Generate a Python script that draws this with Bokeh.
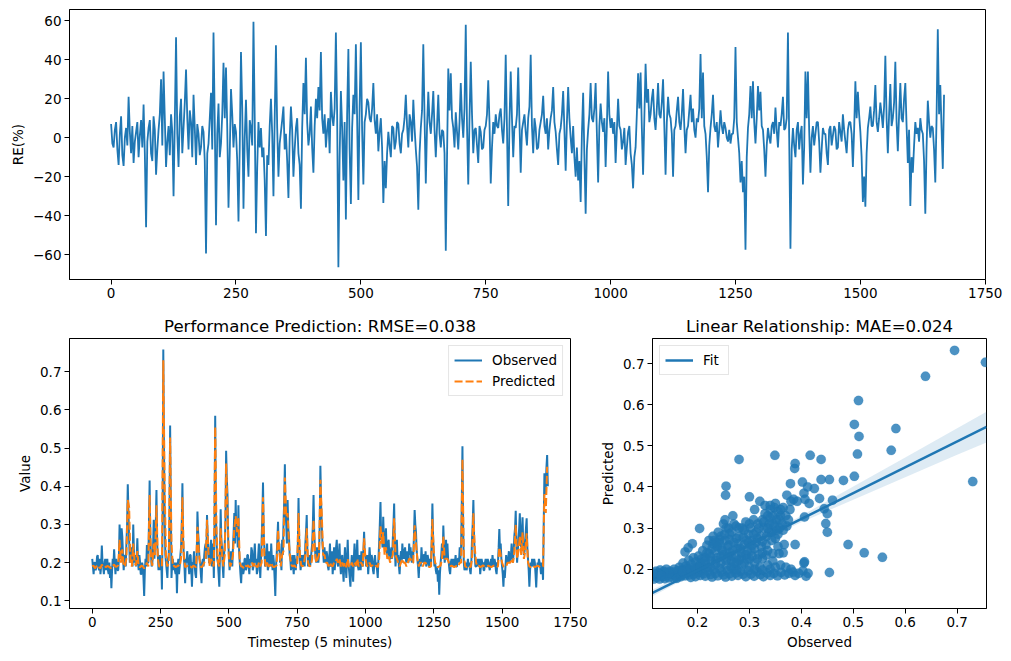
import numpy as np

from bokeh.plotting import figure
from bokeh.layouts import column, row
from bokeh.models import Range1d, FixedTicker
from bokeh.embed import file_html
from bokeh.resources import INLINE

# RE and observed are read every 2.5 timesteps, predicted every 5
FINE_STEP = 2.5
STEP = 5

# relative error (%) of the prediction, top panel (20 readings per 50 timesteps)
re_pct = [
    7, -3, -5, 4, 8, -6, -14, 2, 11, -9, -14.5, 0, 5, -4, 21, 3, -8, 6, -13, -2,
    3, 8, -10, 1, 9, -5, 17, -8, -46, -2, 5, 9, -8, -12, 11, 4, -19, -6, 4, 12,
    30, -4, 34, 10, -15, -2, 6, -9, 12, 3, -30, 8, 51.5, 2, -15, 11, 20, -8, 5, 18,
    35, 10, -6, 14, 8, -10, 22, 5, -14, 7, 2, -9, -5, 6, 3, -12, -59.5, -8, -3, 10,
    23, -6, 54, 8, -45, 2, 17.5, -10, -3, 12, 38.5, 10, 36, 5, -36, -8, 25, 12, -5, 7,
    3, -12, -43, -5, 44, 15, -36.5, 0, 19.5, -6, -20, 9, 5, -4, 59.5, 10, -49, -15, 8, -5,
    5, -10, -5, -22, -50.5, -9, -14, 6, 20, 2, -30, 10, 47.5, 5, -20, -3, 3, 9, 16, -6,
    2, -12, -31, 0, 16, 4, -20, -6, 5, 10, -8, -14, -36.5, 5, 28, 12, 41, 8, -4, 2,
    16, -5, -18, 6, 20, 10, 26, 14, 44, 10, 2, 12, -5, 4, 10, -8, 23.5, 11, 6, 15,
    54, 12, -66.5, -10, 24, 5, -22, 8, -42, 12, 45.5, -6, -34, 5, 22, 12, 48, 10, -32, 16,
    49, 4, -24, 8, 12, 20, 18, 10, 8, 15, 28, 9, 2, 12, -7, 3, 10, -5, -33.5, -12,
    -26, -8, 3, -4, -10, 6, 5, -6, -2, 8, 7, -3, -8, 2, 4, 10, 22, 6, -5, 12,
    8, -2, 19.5, 5, -6, -15, -37, -8, 5, 14, 48, 10, -23.5, 6, 23.5, 8, 2, 12, 24, 4,
    -10, 6, 22, 2, -5, 4, 3, -8, -58, -10, 35.5, 14, 33, 10, 5, -5, 13, 3, -6, 8,
    28, 10, 0, 15, 58, 6, -24, 10, 39, 12, -8, 4, 5, -4, -13, 6, 3, -6, -5, 4,
    6, 12, 29.5, 8, -23.5, -5, 8, 2, 12, 6, 5, 12, 15, 4, -3, 10, 42.5, 5, -35, 8,
    34, 10, -10, 6, 5, 12, 36, 8, -18, 4, 8, 12, 3, -4, 10, 16, 42.5, 6, -8, 10,
    5, -6, -5, 4, 8, 12, 21.5, 6, 2, 10, -6, 4, 10, 14, 26, 8, 3, -6, -14, 2,
    5, 12, 24, 4, -17, 8, 26, 10, 0, -8, 6, -10, -20, -5, -22, -12, -33, 2, 23, -10,
    -39, -6, 4, 12, 28, 10, 8, 15, 28, 2, -23, 6, 17.5, 8, 3, 10, -15, 6, 34, 12,
    5, 10, 2, 8, -13, 4, 20, 6, 4, -6, -2, 5, -14, -5, 3, 6, -8, -14, -26, -10,
    -5, 12, 33, 15, 33.5, 5, -19, 10, 38, 18, 25, 8, 12, 20, 25, 10, 4, 15, 28, 12,
    10, 18, 30, 6, -19, 8, 21, 12, 10, 2, -20, 4, 6, 14, 21, 8, 4, 12, 25, 6,
    -8, 4, 6, 14, 22, 8, 15, 4, 0, 10, 8, 15, 43, 10, 33.5, 6, 2, -10, -28, -4,
    5, 12, 22, 6, 3, 8, -5, 4, 14, 6, 2, 8, 5, 0, -2, 4, -3, 2, 2, 10,
    46.5, 8, 0, -8, -23, -12, -28, -20, -57.5, -10, 5, 12, 26.5, 10, 29, 8, -3, 10, 26.5, 14,
    23.5, 6, 4, -6, -20, -4, 5, 0, -3, 6, 8, 2, 15.5, 4, -5, 8, 6, 12, 21, 4,
    5, 10, 54, 0, -57, -6, 5, -4, -10, 4, 8, -6, 2, 6, -24, -5, 34, 10, 34, 4,
    -18, 0, 6, -4, 2, 8, 8, -2, -18, -6, 5, 2, 2, -8, -14, 4, 6, -4, 1, 6,
    4, -6, -5, 8, 3, -2, 12, 4, -2, -8, 4, 8, 8, 2, -15, 4, 29, 10, 23.5, 12,
    3, -10, -33, -20, -35.5, -8, 5, 10, 16, 6, 6, 14, 27, 8, 3, 10, 18, 12, 5, 16,
    42, 10, -8, 12, 27.5, 6, 10, 18, 39, 8, -7, 12, 28, 10, 8, 20, 28, 6, -13, 4,
    -35, -10, -18, -4, 8, 2, 5, -2, 10, 4, 2, -12, -39, -5, 19, 8, 0, 6, 5, -6,
    -23, 10, 55.7, 12, 27, 5, -16, 22,
]

# observed value (20 readings per 50 timesteps)
observed = [
    0.21, 0.19, 0.17, 0.20, 0.20, 0.18, 0.19, 0.215, 0.22, 0.19, 0.18, 0.21, 0.17, 0.19, 0.245, 0.20, 0.19, 0.17, 0.20, 0.21,
    0.18, 0.20, 0.21, 0.18, 0.17, 0.20, 0.16, 0.19, 0.133, 0.18, 0.21, 0.19, 0.235, 0.20, 0.17, 0.21, 0.20, 0.18, 0.18, 0.21,
    0.30, 0.24, 0.21, 0.29, 0.268, 0.22, 0.18, 0.21, 0.22, 0.19, 0.25, 0.30, 0.405, 0.33, 0.26, 0.20, 0.21, 0.24, 0.22, 0.19,
    0.30, 0.23, 0.20, 0.22, 0.19, 0.21, 0.264, 0.20, 0.18, 0.22, 0.20, 0.17, 0.17, 0.20, 0.19, 0.16, 0.113, 0.18, 0.21, 0.19,
    0.246, 0.20, 0.20, 0.30, 0.415, 0.26, 0.22, 0.19, 0.20, 0.24, 0.312, 0.21, 0.25, 0.30, 0.39, 0.25, 0.22, 0.18, 0.20, 0.22,
    0.18, 0.21, 0.13, 0.30, 0.758, 0.50, 0.33, 0.22, 0.20, 0.18, 0.16, 0.21, 0.22, 0.30, 0.559, 0.35, 0.16, 0.20, 0.21, 0.18,
    0.20, 0.18, 0.17, 0.20, 0.12, 0.19, 0.21, 0.17, 0.19, 0.22, 0.24, 0.29, 0.408, 0.26, 0.22, 0.19, 0.146, 0.21, 0.20, 0.23,
    0.21, 0.19, 0.17, 0.22, 0.22, 0.18, 0.137, 0.20, 0.20, 0.23, 0.19, 0.17, 0.16, 0.22, 0.334, 0.28, 0.25, 0.21, 0.20, 0.17,
    0.146, 0.20, 0.21, 0.19, 0.22, 0.24, 0.25, 0.21, 0.325, 0.27, 0.24, 0.20, 0.20, 0.23, 0.26, 0.19, 0.22, 0.25, 0.16, 0.30,
    0.585, 0.33, 0.26, 0.21, 0.20, 0.17, 0.137, 0.22, 0.34, 0.26, 0.24, 0.19, 0.16, 0.22, 0.25, 0.30, 0.493, 0.42, 0.38, 0.26,
    0.22, 0.18, 0.20, 0.23, 0.21, 0.19, 0.24, 0.28, 0.33, 0.25, 0.364, 0.27, 0.30, 0.24, 0.35, 0.23, 0.20, 0.17, 0.146, 0.19,
    0.20, 0.17, 0.18, 0.21, 0.21, 0.18, 0.19, 0.22, 0.22, 0.19, 0.17, 0.21, 0.20, 0.24, 0.23, 0.18, 0.19, 0.22, 0.25, 0.20,
    0.21, 0.17, 0.18, 0.22, 0.25, 0.20, 0.16, 0.21, 0.26, 0.32, 0.41, 0.28, 0.24, 0.19, 0.20, 0.22, 0.25, 0.18, 0.19, 0.23,
    0.21, 0.19, 0.25, 0.21, 0.18, 0.22, 0.20, 0.16, 0.113, 0.19, 0.22, 0.26, 0.307, 0.23, 0.25, 0.20, 0.21, 0.18, 0.26, 0.22,
    0.30, 0.36, 0.458, 0.33, 0.30, 0.25, 0.364, 0.29, 0.27, 0.22, 0.21, 0.18, 0.20, 0.22, 0.19, 0.17, 0.22, 0.20, 0.18, 0.21,
    0.20, 0.25, 0.369, 0.26, 0.21, 0.18, 0.20, 0.22, 0.19, 0.21, 0.22, 0.19, 0.25, 0.28, 0.325, 0.23, 0.19, 0.21, 0.22, 0.19,
    0.21, 0.23, 0.25, 0.30, 0.377, 0.28, 0.24, 0.21, 0.20, 0.24, 0.23, 0.20, 0.22, 0.30, 0.454, 0.36, 0.30, 0.25, 0.23, 0.20,
    0.24, 0.21, 0.20, 0.23, 0.22, 0.19, 0.18, 0.21, 0.25, 0.19, 0.20, 0.23, 0.17, 0.20, 0.24, 0.18, 0.21, 0.24, 0.26, 0.20,
    0.19, 0.22, 0.25, 0.20, 0.17, 0.21, 0.22, 0.18, 0.15, 0.20, 0.24, 0.19, 0.16, 0.21, 0.26, 0.20, 0.18, 0.16, 0.137, 0.19,
    0.22, 0.18, 0.15, 0.21, 0.25, 0.20, 0.19, 0.22, 0.26, 0.19, 0.18, 0.22, 0.21, 0.18, 0.23, 0.20, 0.19, 0.23, 0.281, 0.22,
    0.22, 0.19, 0.20, 0.22, 0.17, 0.20, 0.24, 0.21, 0.19, 0.22, 0.21, 0.18, 0.17, 0.20, 0.22, 0.19, 0.20, 0.18, 0.16, 0.21,
    0.25, 0.30, 0.359, 0.26, 0.27, 0.24, 0.32, 0.26, 0.24, 0.27, 0.29, 0.23, 0.22, 0.25, 0.26, 0.21, 0.21, 0.23, 0.24, 0.21,
    0.26, 0.30, 0.355, 0.24, 0.19, 0.22, 0.26, 0.21, 0.22, 0.19, 0.17, 0.21, 0.23, 0.20, 0.25, 0.22, 0.21, 0.23, 0.24, 0.21,
    0.20, 0.23, 0.22, 0.20, 0.25, 0.22, 0.24, 0.21, 0.20, 0.23, 0.22, 0.27, 0.338, 0.30, 0.28, 0.23, 0.21, 0.19, 0.16, 0.20,
    0.21, 0.19, 0.24, 0.21, 0.20, 0.22, 0.22, 0.20, 0.23, 0.19, 0.20, 0.22, 0.21, 0.19, 0.19, 0.21, 0.20, 0.26, 0.355, 0.27,
    0.22, 0.19, 0.20, 0.18, 0.17, 0.19, 0.15, 0.18, 0.116, 0.17, 0.20, 0.22, 0.25, 0.21, 0.297, 0.24, 0.20, 0.22, 0.26, 0.21,
    0.25, 0.21, 0.20, 0.18, 0.17, 0.20, 0.21, 0.19, 0.20, 0.21, 0.19, 0.20, 0.22, 0.19, 0.19, 0.21, 0.21, 0.20, 0.24, 0.21,
    0.24, 0.35, 0.505, 0.30, 0.20, 0.18, 0.19, 0.20, 0.18, 0.19, 0.21, 0.19, 0.20, 0.18, 0.17, 0.20, 0.26, 0.30, 0.364, 0.27,
    0.22, 0.19, 0.19, 0.20, 0.21, 0.19, 0.20, 0.21, 0.17, 0.19, 0.21, 0.20, 0.20, 0.18, 0.18, 0.20, 0.21, 0.19, 0.19, 0.21,
    0.20, 0.19, 0.18, 0.20, 0.21, 0.19, 0.22, 0.20, 0.19, 0.21, 0.20, 0.18, 0.17, 0.20, 0.20, 0.24, 0.288, 0.23, 0.25, 0.21,
    0.19, 0.17, 0.137, 0.18, 0.16, 0.19, 0.22, 0.20, 0.20, 0.21, 0.23, 0.20, 0.21, 0.22, 0.25, 0.21, 0.20, 0.23, 0.27, 0.29,
    0.336, 0.25, 0.20, 0.23, 0.26, 0.29, 0.329, 0.26, 0.24, 0.28, 0.319, 0.25, 0.22, 0.23, 0.26, 0.29, 0.316, 0.24, 0.21, 0.18,
    0.137, 0.18, 0.20, 0.19, 0.21, 0.20, 0.19, 0.21, 0.20, 0.17, 0.135, 0.18, 0.20, 0.19, 0.21, 0.20, 0.19, 0.17, 0.20, 0.19,
    0.155, 0.30, 0.434, 0.38, 0.40, 0.45, 0.482, 0.40,
]

# predicted value (10 readings per 50 timesteps)
predicted = [
    0.19, 0.192, 0.185, 0.19, 0.194, 0.188, 0.185, 0.195, 0.19, 0.192,
    0.188, 0.191, 0.19, 0.187, 0.185, 0.192, 0.195, 0.189, 0.19, 0.193,
    0.26, 0.20, 0.235, 0.19, 0.192, 0.21, 0.364, 0.345, 0.20, 0.19,
    0.25, 0.20, 0.192, 0.23, 0.19, 0.188, 0.192, 0.19, 0.185, 0.19,
    0.20, 0.19, 0.377, 0.21, 0.192, 0.25, 0.22, 0.35, 0.21, 0.19,
    0.19, 0.188, 0.73, 0.40, 0.21, 0.19, 0.20, 0.528, 0.25, 0.19,
    0.192, 0.188, 0.19, 0.193, 0.19, 0.21, 0.371, 0.22, 0.188, 0.19,
    0.192, 0.188, 0.19, 0.187, 0.192, 0.19, 0.188, 0.294, 0.23, 0.19,
    0.188, 0.192, 0.20, 0.21, 0.312, 0.23, 0.19, 0.21, 0.20, 0.19,
    0.556, 0.28, 0.20, 0.19, 0.29, 0.22, 0.19, 0.22, 0.46, 0.34,
    0.21, 0.19, 0.20, 0.22, 0.29, 0.322, 0.28, 0.32, 0.20, 0.19,
    0.19, 0.185, 0.192, 0.19, 0.193, 0.188, 0.19, 0.20, 0.19, 0.20,
    0.19, 0.188, 0.20, 0.19, 0.20, 0.371, 0.22, 0.19, 0.20, 0.19,
    0.192, 0.20, 0.19, 0.188, 0.19, 0.193, 0.286, 0.23, 0.19, 0.22,
    0.23, 0.423, 0.32, 0.33, 0.25, 0.21, 0.192, 0.19, 0.193, 0.188,
    0.19, 0.33, 0.22, 0.192, 0.19, 0.20, 0.22, 0.29, 0.20, 0.19,
    0.192, 0.21, 0.312, 0.23, 0.20, 0.21, 0.22, 0.417, 0.33, 0.22,
    0.22, 0.20, 0.20, 0.19, 0.20, 0.192, 0.19, 0.20, 0.20, 0.21,
    0.20, 0.21, 0.19, 0.20, 0.19, 0.20, 0.188, 0.21, 0.19, 0.188,
    0.20, 0.19, 0.20, 0.192, 0.21, 0.19, 0.20, 0.20, 0.19, 0.264,
    0.21, 0.192, 0.19, 0.20, 0.19, 0.193, 0.188, 0.19, 0.192, 0.188,
    0.21, 0.295, 0.25, 0.28, 0.22, 0.24, 0.21, 0.22, 0.20, 0.21,
    0.22, 0.316, 0.22, 0.21, 0.20, 0.19, 0.20, 0.21, 0.20, 0.20,
    0.19, 0.20, 0.21, 0.21, 0.20, 0.20, 0.298, 0.25, 0.21, 0.19,
    0.20, 0.20, 0.19, 0.20, 0.20, 0.192, 0.19, 0.188, 0.19, 0.314,
    0.23, 0.20, 0.19, 0.188, 0.19, 0.192, 0.21, 0.268, 0.21, 0.21,
    0.21, 0.20, 0.19, 0.192, 0.19, 0.188, 0.19, 0.192, 0.19, 0.20,
    0.20, 0.471, 0.22, 0.19, 0.188, 0.192, 0.19, 0.188, 0.21, 0.329,
    0.24, 0.20, 0.19, 0.192, 0.188, 0.19, 0.193, 0.19, 0.188, 0.19,
    0.192, 0.19, 0.188, 0.19, 0.192, 0.19, 0.188, 0.19, 0.24, 0.22,
    0.20, 0.19, 0.188, 0.19, 0.20, 0.20, 0.20, 0.21, 0.20, 0.23,
    0.299, 0.21, 0.23, 0.27, 0.22, 0.28, 0.21, 0.23, 0.277, 0.20,
    0.19, 0.188, 0.192, 0.19, 0.188, 0.19, 0.192, 0.19, 0.188, 0.19,
    0.19, 0.38, 0.33, 0.451,
]

# (observed, predicted) pairs for the scatter panel
scatter_pairs = [
    (0.113, 0.182), (0.116, 0.176), (0.118, 0.188), (0.122, 0.180), (0.125, 0.186),
    (0.127, 0.176), (0.131, 0.190), (0.134, 0.182), (0.137, 0.177), (0.139, 0.192),
    (0.142, 0.185), (0.145, 0.179), (0.147, 0.195), (0.150, 0.187), (0.152, 0.181),
    (0.155, 0.193), (0.158, 0.185), (0.160, 0.178), (0.163, 0.196), (0.165, 0.188),
    (0.168, 0.182), (0.171, 0.199), (0.173, 0.190), (0.176, 0.184), (0.179, 0.201),
    (0.181, 0.193), (0.184, 0.186), (0.187, 0.180), (0.190, 0.196), (0.193, 0.188),
    (0.196, 0.182), (0.199, 0.203), (0.202, 0.192), (0.205, 0.185), (0.208, 0.198),
    (0.212, 0.189), (0.215, 0.183), (0.218, 0.204), (0.221, 0.194), (0.225, 0.187),
    (0.228, 0.181), (0.232, 0.199), (0.235, 0.190), (0.239, 0.184), (0.243, 0.202),
    (0.247, 0.193), (0.250, 0.186), (0.254, 0.181), (0.258, 0.197), (0.262, 0.189),
    (0.266, 0.183), (0.270, 0.200), (0.274, 0.191), (0.278, 0.185), (0.283, 0.195),
    (0.288, 0.188), (0.293, 0.182), (0.298, 0.196), (0.303, 0.188), (0.309, 0.183),
    (0.315, 0.194), (0.321, 0.187), (0.327, 0.182), (0.334, 0.191), (0.340, 0.185),
    (0.347, 0.190), (0.354, 0.184), (0.361, 0.192), (0.368, 0.186), (0.376, 0.190),
    (0.384, 0.193), (0.388, 0.185), (0.403, 0.196), (0.405, 0.215), (0.409, 0.183),
    (0.413, 0.190), (0.454, 0.192), (0.120, 0.195), (0.128, 0.198), (0.140, 0.200),
    (0.165, 0.205), (0.172, 0.215), (0.178, 0.208), (0.183, 0.222), (0.188, 0.212),
    (0.192, 0.228), (0.197, 0.218), (0.176, 0.242), (0.182, 0.252), (0.190, 0.262),
    (0.204, 0.299), (0.202, 0.232), (0.206, 0.215), (0.210, 0.245), (0.214, 0.228),
    (0.218, 0.258), (0.222, 0.238), (0.226, 0.220), (0.230, 0.262), (0.234, 0.245),
    (0.238, 0.228), (0.242, 0.265), (0.246, 0.250), (0.250, 0.235), (0.222, 0.270),
    (0.232, 0.270), (0.243, 0.272), (0.253, 0.270), (0.262, 0.272), (0.252, 0.285),
    (0.255, 0.300), (0.253, 0.320), (0.258, 0.255), (0.262, 0.240), (0.266, 0.290),
    (0.268, 0.330), (0.270, 0.265), (0.274, 0.305), (0.276, 0.250), (0.280, 0.280),
    (0.284, 0.230), (0.286, 0.300), (0.290, 0.260), (0.293, 0.315), (0.296, 0.245),
    (0.298, 0.285), (0.265, 0.220), (0.275, 0.215), (0.285, 0.210), (0.254, 0.380),
    (0.255, 0.402), (0.280, 0.467), (0.302, 0.300), (0.305, 0.270), (0.308, 0.320),
    (0.310, 0.250), (0.313, 0.290), (0.316, 0.310), (0.318, 0.235), (0.320, 0.365),
    (0.322, 0.280), (0.325, 0.320), (0.328, 0.300), (0.330, 0.355), (0.332, 0.260),
    (0.335, 0.330), (0.338, 0.310), (0.340, 0.345), (0.343, 0.290), (0.345, 0.330),
    (0.348, 0.350), (0.350, 0.275), (0.352, 0.320), (0.355, 0.340), (0.358, 0.300),
    (0.360, 0.330), (0.300, 0.376), (0.325, 0.226), (0.332, 0.234), (0.357, 0.238),
    (0.367, 0.260), (0.388, 0.260), (0.365, 0.240), (0.365, 0.350), (0.372, 0.380),
    (0.378, 0.345), (0.380, 0.365), (0.379, 0.408), (0.385, 0.370), (0.387, 0.445),
    (0.388, 0.457), (0.392, 0.365), (0.402, 0.412), (0.405, 0.385), (0.407, 0.370),
    (0.412, 0.400), (0.415, 0.360), (0.417, 0.477), (0.425, 0.396), (0.435, 0.372),
    (0.438, 0.418), (0.438, 0.467), (0.444, 0.347), (0.447, 0.311), (0.450, 0.335),
    (0.450, 0.290), (0.454, 0.418), (0.460, 0.368), (0.406, 0.327), (0.406, 0.218),
    (0.349, 0.477), (0.481, 0.416), (0.490, 0.260), (0.502, 0.426), (0.502, 0.552),
    (0.508, 0.480), (0.510, 0.610), (0.511, 0.523), (0.521, 0.240), (0.556, 0.229),
    (0.573, 0.489), (0.582, 0.542), (0.639, 0.669), (0.695, 0.732), (0.730, 0.413),
    (0.7545, 0.703),
    (0.185, 0.200), (0.195, 0.205), (0.205, 0.210), (0.215, 0.212), (0.225, 0.205),
    (0.235, 0.212), (0.245, 0.215), (0.255, 0.210), (0.265, 0.205), (0.275, 0.200),
    (0.290, 0.215), (0.300, 0.225), (0.310, 0.215), (0.320, 0.205), (0.335, 0.210),
    (0.345, 0.220), (0.208, 0.225), (0.218, 0.240), (0.228, 0.250), (0.238, 0.255),
    (0.248, 0.245), (0.258, 0.232), (0.268, 0.245), (0.278, 0.262), (0.288, 0.278),
    (0.298, 0.265), (0.308, 0.285), (0.318, 0.300), (0.328, 0.315), (0.338, 0.290),
    (0.348, 0.305), (0.358, 0.320), (0.310, 0.345), (0.330, 0.335), (0.340, 0.325),
    (0.260, 0.300), (0.270, 0.310), (0.280, 0.300), (0.290, 0.295), (0.300, 0.310),
    (0.262, 0.285), (0.283, 0.250), (0.293, 0.235), (0.303, 0.245), (0.313, 0.265),
    (0.323, 0.255), (0.333, 0.280), (0.343, 0.270), (0.353, 0.295), (0.363, 0.310),
    (0.370, 0.330), (0.375, 0.320), (0.250, 0.310), (0.240, 0.290), (0.230, 0.280),
    (0.170, 0.195), (0.155, 0.200), (0.145, 0.190), (0.135, 0.195), (0.125, 0.190),
    (0.115, 0.190), (0.130, 0.185),
    (0.205, 0.205), (0.215, 0.220), (0.225, 0.230), (0.235, 0.222), (0.245, 0.230),
    (0.255, 0.222), (0.265, 0.232), (0.275, 0.228), (0.285, 0.240), (0.295, 0.225),
    (0.305, 0.232), (0.315, 0.225), (0.325, 0.240), (0.335, 0.245), (0.345, 0.238),
    (0.355, 0.255), (0.340, 0.200), (0.350, 0.205), (0.360, 0.210), (0.370, 0.205),
    (0.380, 0.200), (0.395, 0.190), (0.300, 0.205), (0.310, 0.200), (0.325, 0.198),
    (0.280, 0.222), (0.270, 0.215), (0.260, 0.258), (0.275, 0.275), (0.295, 0.270),
    (0.305, 0.258), (0.315, 0.275), (0.325, 0.268), (0.335, 0.300), (0.345, 0.310),
    (0.355, 0.285), (0.365, 0.295), (0.372, 0.305), (0.360, 0.345), (0.350, 0.360),
    (0.340, 0.355), (0.245, 0.280), (0.235, 0.265),
]

# regression line and its confidence band
fit_x = [0.1133, 0.7565]
fit_y = [0.1424, 0.546]
band_x = [0.1133, 0.2, 0.3, 0.4, 0.5, 0.6, 0.7, 0.7565]
band_lo = [0.1344, 0.1928, 0.2556, 0.3143, 0.3691, 0.4238, 0.4786, 0.508]
band_hi = [0.1504, 0.2008, 0.2636, 0.3303, 0.4011, 0.4718, 0.5426, 0.583]

rmse_text = "0.038"
mae_text = "0.024"

BLUE = "#1f77b4"
ORANGE = "#ff7f0e"
FONT = "DejaVu Sans"
FS = "13.5px"


def style(p):
    p.outline_line_color = "black"
    p.outline_line_width = 1
    p.xgrid.visible = False
    p.ygrid.visible = False
    p.background_fill_color = "white"
    p.border_fill_color = "white"
    for ax in p.axis:
        ax.axis_line_color = "black"
        ax.major_tick_line_color = "black"
        ax.major_tick_out = 5
        ax.major_tick_in = 0
        ax.minor_tick_line_color = None
        ax.major_label_text_font = FONT
        ax.major_label_text_font_size = FS
        ax.major_label_text_color = "black"
        ax.major_label_standoff = 3
        ax.axis_label_text_font = FONT
        ax.axis_label_text_font_size = FS
        ax.axis_label_text_font_style = "normal"
        ax.axis_label_text_color = "black"
        ax.axis_label_standoff = 4
    p.title.text_font = FONT
    p.title.text_font_size = "16.6px"
    p.title.text_font_style = "normal"
    p.title.text_color = "black"
    p.title.align = "center"
    p.title.standoff = 6


def style_legend(leg):
    leg.label_text_font = FONT
    leg.label_text_font_size = FS
    leg.label_text_color = "black"
    leg.border_line_color = "#cccccc"
    leg.background_fill_alpha = 0.8
    leg.glyph_width = 28
    leg.label_height = 18
    leg.glyph_height = 18
    leg.label_standoff = 10
    leg.padding = 5
    leg.spacing = 3
    leg.margin = 7


# ---- top: relative error
t_re = np.arange(len(re_pct)) * FINE_STEP
top = figure(frame_width=916, frame_height=270,
             min_border_left=69, min_border_right=18,
             min_border_top=9, min_border_bottom=30,
             x_range=Range1d(-83.3, 1750.5), y_range=Range1d(-72.8, 65.8),
             output_backend="svg", toolbar_location=None)
top.line(t_re, re_pct, line_color=BLUE, line_width=1.8)
style(top)
top.xaxis.ticker = FixedTicker(ticks=[0, 250, 500, 750, 1000, 1250, 1500, 1750])
top.yaxis.ticker = FixedTicker(ticks=[-60, -40, -20, 0, 20, 40, 60])
top.yaxis.major_label_overrides = {-60: "\u221260", -40: "\u221240", -20: "\u221220"}
top.yaxis.axis_label = "RE(%)"

# ---- bottom left: observed vs predicted over time
t_obs = np.arange(len(observed)) * FINE_STEP
t_pred = np.arange(len(predicted)) * STEP
bl = figure(frame_width=501, frame_height=270,
            min_border_left=69, min_border_right=20,
            min_border_top=29, min_border_bottom=44,
            x_range=Range1d(-83.3, 1750.5), y_range=Range1d(0.0799, 0.7871),
            title="Performance Prediction: RMSE=" + rmse_text,
            output_backend="svg", toolbar_location=None)
bl.line(t_obs, observed, line_color=BLUE, line_width=2, legend_label="Observed")
bl.line(t_pred, predicted, line_color=ORANGE, line_width=2, line_dash="8 3",
        legend_label="Predicted")
style(bl)
bl.xaxis.ticker = FixedTicker(ticks=[0, 250, 500, 750, 1000, 1250, 1500, 1750])
bl.yaxis.ticker = FixedTicker(ticks=[0.1, 0.2, 0.3, 0.4, 0.5, 0.6, 0.7])
bl.xaxis.axis_label = "Timestep (5 minutes)"
bl.yaxis.axis_label = "Value"
bl.legend.location = "top_right"
style_legend(bl.legend[0])

# ---- bottom right: scatter with linear fit
sc_obs = [a for a, b in scatter_pairs]
sc_pred = [b for a, b in scatter_pairs]
br = figure(frame_width=334, frame_height=270,
            min_border_left=62, min_border_right=9,
            min_border_top=29, min_border_bottom=44,
            x_range=Range1d(0.1133, 0.7565), y_range=Range1d(0.1045, 0.761),
            title="Linear Relationship: MAE=" + mae_text,
            output_backend="svg", toolbar_location=None)
br.scatter(sc_obs, sc_pred, size=9.5, fill_color=BLUE, fill_alpha=0.8,
           line_color=BLUE, line_alpha=0.3, line_width=0.5)
br.varea(x=band_x, y1=band_lo, y2=band_hi, fill_color=BLUE, fill_alpha=0.15)
br.line(fit_x, fit_y, line_color=BLUE, line_width=2.5, legend_label="Fit")
style(br)
br.xaxis.ticker = FixedTicker(ticks=[0.2, 0.3, 0.4, 0.5, 0.6, 0.7])
br.yaxis.ticker = FixedTicker(ticks=[0.2, 0.3, 0.4, 0.5, 0.6, 0.7])
br.xaxis.axis_label = "Observed"
br.yaxis.axis_label = "Predicted"
br.legend.location = "top_left"
style_legend(br.legend[0])

layout = column(top, row(bl, br))
open("out.html", "w").write(file_html(layout, INLINE))
